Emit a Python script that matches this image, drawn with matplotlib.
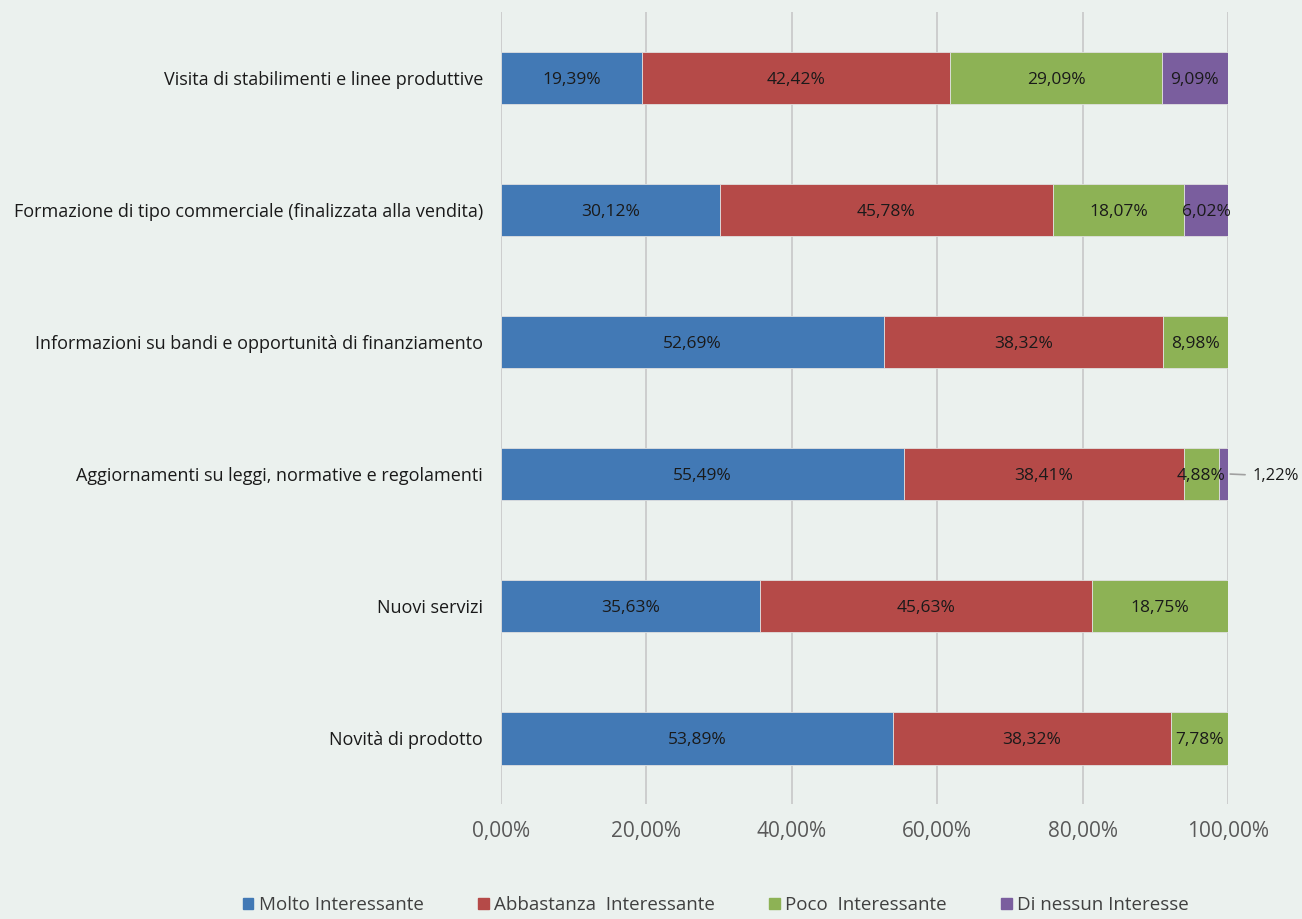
import numpy as np
import matplotlib.pyplot as plt
from matplotlib.patches import Patch

categories = ['Visita di stabilimenti e linee produttive',
              'Formazione di tipo commerciale (finalizzata alla vendita)',
              'Informazioni su bandi e opportunità di finanziamento',
              'Aggiornamenti su leggi, normative e regolamenti',
              'Nuovi servizi',
              'Novità di prodotto']
series = ['Molto Interessante', 'Abbastanza  Interessante', 'Poco  Interessante', 'Di nessun Interesse']
molto = [19.39, 30.12, 52.69, 55.49, 35.63, 53.89]
abbastanza = [42.42, 45.78, 38.32, 38.41, 45.63, 38.32]
poco = [29.09, 18.07, 8.98, 4.88, 18.75, 7.78]
nessuno = [9.09, 6.02, 0, 1.22, 0, 0]
colors = ['#4279b5', '#b54a48', '#8db255', '#7a5e9e']

plt.rcParams['font.family'] = ['Open Sans', 'DejaVu Sans']
bg = '#ebf1ee'

fig = plt.figure(figsize=(13.02, 9.19), dpi=100, facecolor=bg)
ax = fig.add_axes([0.3848, 0.125, 0.5584, 0.862])
ax.set_facecolor(bg)

y = np.arange(len(categories))
left = np.zeros(len(categories))
for vals, col in zip([molto, abbastanza, poco, nessuno], colors):
    vals = np.array(vals)
    ax.barh(y, vals, left=left, height=0.4, color=col, edgecolor='#e0e0e0', linewidth=0.6, zorder=3)
    for i, v in enumerate(vals):
        if v == 0:
            continue
        lbl = f'{v:.2f}%'.replace('.', ',')
        if v < 3:
            # etichetta fuori dalla barra con linea di richiamo
            ax.annotate(lbl, xy=(left[i] + v + 0.3, y[i]), xytext=(left[i] + v + 3.3, y[i]),
                        va='center_baseline', ha='left', fontsize=12, color='#1a1a1a',
                        annotation_clip=False,
                        arrowprops=dict(arrowstyle='-', color='#a0a0a0', lw=1.2,
                                        shrinkA=3, shrinkB=0))
        else:
            ax.text(left[i] + v / 2, y[i], lbl, ha='center', va='center_baseline',
                    fontsize=12.5, color='#1a1a1a', zorder=4)
    left += vals

ax.set_ylim(len(categories) - 0.5, -0.5)
ax.set_xlim(0, 100)
ax.set_yticks(y)
ax.set_yticklabels(categories, fontsize=13, color='#1a1a1a')
ax.set_xticks(np.arange(0, 101, 20))
ax.set_xticklabels([f'{t:.2f}%'.replace('.', ',') for t in np.arange(0, 101, 20)],
                   fontsize=15, color='#595959')
ax.tick_params(axis='both', length=0)
ax.tick_params(axis='y', pad=13)
ax.tick_params(axis='x', pad=12)
ax.grid(axis='x', color='#c8c8c8', linewidth=1.2, zorder=0)
for s in ax.spines.values():
    s.set_visible(False)

handles = [Patch(color=c, label=s) for c, s in zip(colors, series)]
fig.legend(handles=handles, loc='lower center', ncol=4, frameon=False,
           bbox_to_anchor=(0.55, -0.013), fontsize=13.5, labelcolor='#404040',
           handlelength=0.55, handleheight=0.55, handletextpad=0.3, columnspacing=2.9)

plt.savefig('out.png', dpi=100, facecolor=bg)
